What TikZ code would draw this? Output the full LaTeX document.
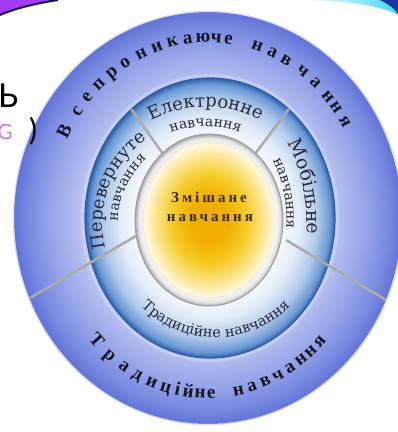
\documentclass[tikz,border=0pt]{standalone}
\usepackage{fontspec}
\setmainfont{Liberation Serif}
\newfontfamily\wideserif{DejaVu Serif}
\newfontfamily\ctrfont[LetterSpace=20]{Liberation Serif}
\newfontfamily\sansfam{Lato}
\usetikzlibrary{decorations.text}

\definecolor{odA}{HTML}{CDD4F5}
\definecolor{odB}{HTML}{B4BEF0}
\definecolor{odC}{HTML}{95A3E9}
\definecolor{odD}{HTML}{7586DF}
\definecolor{odE}{HTML}{6173D6}
\definecolor{rgA}{HTML}{F5F8FD}
\definecolor{rgB}{HTML}{E3ECF8}
\definecolor{rgC}{HTML}{B0C9EB}
\definecolor{rgD}{HTML}{6A98D6}
\definecolor{rgE}{HTML}{2E5EA6}
\definecolor{yA}{HTML}{F0AE00}
\definecolor{yB}{HTML}{F6CA25}
\definecolor{yC}{HTML}{FBE487}
\definecolor{yD}{HTML}{FEF6D8}
\definecolor{rimA}{HTML}{FFFFFF}
\definecolor{rimB}{HTML}{E4E4E4}
\definecolor{rimC}{HTML}{A0A0A0}
\definecolor{sepgray}{HTML}{ABABAB}
\definecolor{ringink}{HTML}{2A2A38}
\definecolor{outink}{HTML}{15151F}
\definecolor{ctrink}{HTML}{3A2A10}
\definecolor{topviolet}{HTML}{A43BF0}
\definecolor{navyedge}{HTML}{1C0F4E}
\definecolor{cyanish}{HTML}{3FD9F2}
\definecolor{darkcorner}{HTML}{1535A0}
\definecolor{pinkG}{HTML}{C77DDB}

\pgfdeclareradialshading{outerdisc}{\pgfpoint{0bp}{0bp}}{color(0bp)=(odA); color(15bp)=(odA); color(17bp)=(odB); color(20.5bp)=(odC); color(23.5bp)=(odD); color(25bp)=(odE); color(50bp)=(odE)}
\pgfdeclareradialshading{ringshade}{\pgfpoint{0bp}{0bp}}{color(0bp)=(rgA); color(15bp)=(rgA); color(18bp)=(rgB); color(21.5bp)=(rgC); color(24bp)=(rgD); color(25bp)=(rgE); color(50bp)=(rgE)}
\pgfdeclareradialshading{yolk}{\pgfpoint{0bp}{0bp}}{color(0bp)=(yA); color(7bp)=(yA); color(14bp)=(yB); color(20bp)=(yC); color(24bp)=(yD); color(25bp)=(yD); color(50bp)=(yD)}
\pgfdeclareradialshading{rimshade}{\pgfpoint{0bp}{0bp}}{color(0bp)=(rimA); color(22bp)=(rimA); color(24bp)=(rimB); color(25bp)=(rimC); color(50bp)=(rimC)}

\newcommand\rfont{\wideserif\fontsize{18}{18}\selectfont}
\newcommand\rmob{\wideserif\fontsize{19}{19}\selectfont}
\newcommand\rsmall{\wideserif\fontsize{14}{14}\selectfont}
\newcommand\rbottom{\wideserif\fontsize{14.5}{14.5}\selectfont}

\tikzset{
  outl/.style={font=\bfseries\fontsize{19}{19}\selectfont, text=outink, inner sep=0pt, text height=0.46em, text depth=0pt},
  sepline/.style={draw=sepgray, line width=2.5pt},
  ctrtxt/.style={font=\ctrfont\bfseries\fontsize{15}{15}\selectfont, text=ctrink, inner sep=0pt},
}

\begin{document}
\begin{tikzpicture}[x=1pt,y=1pt]
\useasboundingbox (-208,-214) rectangle (190,218);
\clip (-208,-214) rectangle (190,218);
\fill[white] (-208,-214) rectangle (190,218);

% slide decorations at top
\fill[topviolet] (-208,218) -- (-150,218) .. controls (-170,215) and (-192,210) .. (-208,203) -- cycle;
\draw[navyedge, line width=2pt] (-150,218) .. controls (-170,215) and (-192,210) .. (-208,203);
\shade[left color=white, right color=cyanish] (95,218) .. controls (140,217) and (172,213) .. (190,203) -- (190,218) -- cycle;
\fill[darkcorner] (172,218) .. controls (180,214) and (186,210) .. (190,204) -- (190,218) -- cycle;

% outer disc
\shade[shading=outerdisc] (0,0) ellipse[x radius=194pt, y radius=206pt];
\draw[white!55!odD, line width=1.5pt, opacity=0.6] (0,0) ellipse[x radius=194.5pt, y radius=206.5pt];

% fragments of slide text
\node[anchor=base west, inner sep=0pt, font=\sansfam\fontsize{33}{33}\selectfont] (frag1) at (-210,111) {Ь};
\node[anchor=base east, inner sep=0pt, text=pinkG, font=\sansfam\fontsize{21}{21}\selectfont] (frag2) at (-195,79) {G};
\node[anchor=base west, inner sep=0pt, font=\sansfam\fontsize{30}{30}\selectfont] (frag3) at (-179,78) {)};

% middle ring
\draw[odA, line width=4pt, opacity=0.7] (2,0) ellipse[x radius=127pt, y radius=142pt];
\shade[shading=ringshade] (2,0) ellipse[x radius=125pt, y radius=140pt];
\draw[rgE, line width=1.2pt] (2,0) ellipse[x radius=125pt, y radius=140pt];

% separators
\coordinate (tlin) at (-45.6,64.8);
\coordinate (tlout) at (-76.7,108.8);
\coordinate (trin) at (47.6,64.8);
\coordinate (trout) at (80.7,108.8);
\coordinate (blin) at (-72,-18);
\coordinate (blout) at (-178,-80);
\coordinate (brin) at (78,-22);
\coordinate (brout) at (178,-82);
\draw[sepline] (tlin) -- (tlout);
\draw[sepline] (trin) -- (trout);
\draw[sepline] (blin) -- (blout);
\draw[sepline] (brin) -- (brout);

% inner circle
\shade[shading=rimshade] (1,-2) ellipse[x radius=74pt, y radius=86pt];
\draw[rimC, line width=1pt] (1,-2) ellipse[x radius=74pt, y radius=86pt];
\shade[shading=yolk] (1,-2) ellipse[x radius=66pt, y radius=78pt];
\draw[rimB, line width=0.6pt] (1,-2) ellipse[x radius=66pt, y radius=78pt];

\node[ctrtxt] (ctr1) at (1,21) {Змішане};
\node[ctrtxt] (ctr2) at (2,0) {навчання};

% middle ring texts
\path[decorate, decoration={text along path, text align=center, text color=ringink, text={|\rfont|Електронне}}]
  ([shift={(-2.5,-6.5)}]160:117.5pt) arc[start angle=160, end angle=20, radius=117.5pt];
\path[decorate, decoration={text along path, text align=center, text color=ringink, text={|\rsmall|навчання}}]
  ([shift={(-2.5,-6.5)}]150:98pt) arc[start angle=150, end angle=30, radius=98pt];
\path[decorate, decoration={text along path, text align=center, text color=ringink, text={|\rfont|Перевернуте}}]
  ([shift={(-3.3,-5.8)}]219:102.3pt) arc[start angle=219, end angle=99, radius=102.3pt];
\path[decorate, decoration={text along path, text align=center, text color=ringink, text={|\rsmall|навчання}}]
  ([shift={(-3.3,-5.8)}]215:87pt) arc[start angle=215, end angle=95, radius=87pt];
\path[decorate, decoration={text along path, text align=center, text color=ringink, text={|\rmob|Мобільне}}]
  ([shift={(-55,-1)}]52:154pt) arc[start angle=52, end angle=-28, radius=154pt];
\path[decorate, decoration={text along path, text align=center, text color=ringink, text={|\rsmall|навчання}}]
  ([shift={(-55,-1)}]51:133.5pt) arc[start angle=51, end angle=-29, radius=133.5pt];
\path[decorate, decoration={text along path, text align=center, text color=ringink, text={|\rbottom|Традиційне навчання}}]
  ([shift={(7.8,-14.5)}]200:105pt) arc[start angle=200, end angle=340, radius=105pt];

% outer band texts
\foreach \t/\c [count=\i] in {151.3/В,143.6/с,138/е,132.2/п,126.3/р,120.7/о,114.3/н,108.3/и,102.7/к,97.2/а,91.8/ю,87.1/ч,82.8/е,72.3/н,66.7/а,61.2/в,54.4/ч,48.6/а,42.4/н,37.9/н,32.5/я}{
  \pgfmathsetmacro\r{atan2(-178*cos(\t),160*sin(\t))}
  \node[outl, rotate=\r] (vs\i) at (\t:160pt and 178pt) {\c};
}
\foreach \t/\c [count=\i] in {224.6/Т,231.4/р,237.8/а,243.4/д,249.1/и,254.4/ц,258.8/і,262.8/й,267.1/н,271.2/е,281.2/н,286.2/а,291.3/в,296.4/ч,301.4/а,306.2/н,310.7/н,315.2/я}{
  \pgfmathsetmacro\r{atan2(178*cos(\t),-160*sin(\t))}
  \node[outl, rotate=\r] (tr\i) at (\t:160pt and 178pt) {\c};
}
\end{tikzpicture}
\end{document}
